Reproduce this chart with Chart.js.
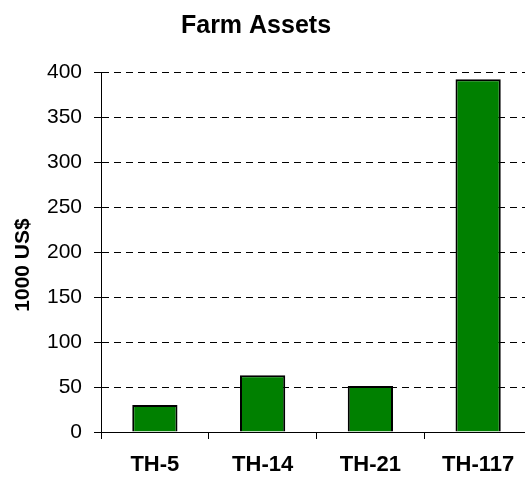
<!DOCTYPE html>
<html>
<head>
<meta charset="utf-8">
<script src="https://cdn.jsdelivr.net/npm/chart.js@4.4.1/dist/chart.umd.min.js"></script>
<style>
  html, body { margin: 0; padding: 0; background: #fff; overflow: hidden; }
  #wrap { position: relative; width: 533px; height: 480px; }
</style>
</head>
<body>
<div id="wrap"><canvas id="c"></canvas></div>
<script>
const chartTitle = "Farm Assets";
const yAxisTitle = "1000 US$";
const categories = ["TH-5", "TH-14", "TH-21", "TH-117"];
const assetValues = [30, 63, 51, 392];
const yMin = 0, yMax = 400, yStep = 50;

const FONT = "'Liberation Sans', Arial, Helvetica, sans-serif";

const textPlugin = {
  id: 'customTexts',
  afterDraw(chart) {
    const ctx = chart.ctx;
    ctx.save();
    ctx.fillStyle = '#000';
    ctx.font = "bold 25px " + FONT;
    ctx.textAlign = 'center';
    ctx.textBaseline = 'alphabetic';
    ctx.fillText(chartTitle, 256, 33);
    ctx.translate(23, 265);
    ctx.rotate(-Math.PI / 2);
    ctx.font = "bold 21px " + FONT;
    ctx.textBaseline = 'middle';
    ctx.fillText(yAxisTitle, 0, 0);
    ctx.restore();
  }
};

new Chart(document.getElementById('c'), {
  type: 'bar',
  data: {
    labels: categories,
    datasets: [{
      data: assetValues,
      backgroundColor: '#008000',
      borderColor: '#000',
      borderWidth: 2,
      barPercentage: 0.42,
      categoryPercentage: 1.0
    }]
  },
  options: {
    responsive: true,
    maintainAspectRatio: false,
    animation: false,
    layout: { padding: { top: 72, right: 1, left: 0, bottom: 0 } },
    plugins: {
      legend: { display: false },
      title: { display: false },
      tooltip: { enabled: false }
    },
    scales: {
      x: {
        offset: true,
        grid: {
          offset: true,
          drawOnChartArea: false,
          drawTicks: true,
          tickLength: 7,
          color: '#000'
        },
        border: { display: true, color: '#000', width: 1 },
        ticks: {
          color: '#000',
          padding: 13,
          maxRotation: 0,
          font: { family: FONT, size: 22, weight: 'bold' }
        },
        afterFit(scale) { scale.height = 48; }
      },
      y: {
        min: yMin,
        max: yMax,
        grid: {
          color: '#000',
          lineWidth: 1,
          tickLength: 7,
          tickBorderDash: []
        },
        border: { display: true, color: '#000', width: 1, dash: [7, 5] },
        ticks: {
          stepSize: yStep,
          color: '#000',
          padding: 12,
          font: { family: FONT, size: 21 }
        },
        afterFit(scale) { scale.width = 101; }
      }
    }
  },
  plugins: [textPlugin]
});
</script>
</body>
</html>
